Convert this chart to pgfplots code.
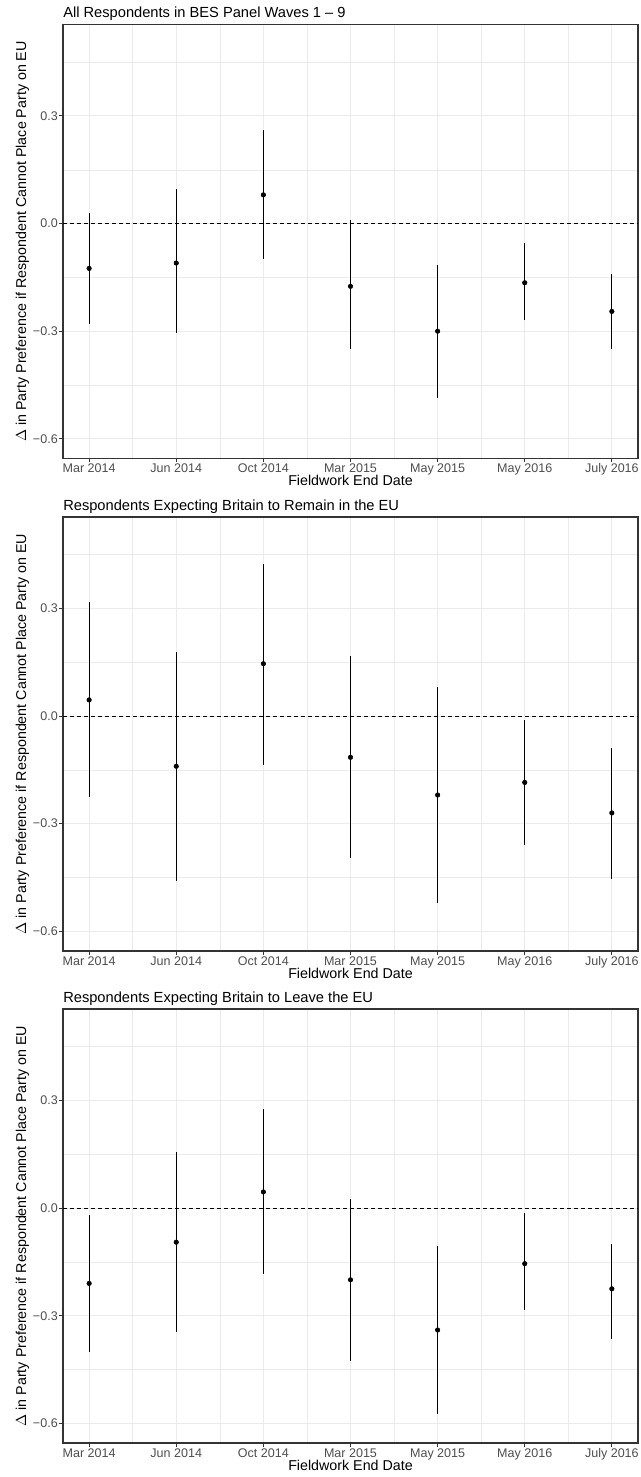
\documentclass[border=0pt]{standalone}
\usepackage{fontspec}
\setmainfont{Liberation Sans}
\usepackage{pgfplots}
\usepackage{pgfplotstable}
\pgfplotsset{compat=1.18}
\definecolor{gg20}{HTML}{333333}
\definecolor{gg30}{HTML}{4D4D4D}
\definecolor{gg92}{HTML}{EBEBEB}

\pgfplotstableread{
x y lo hi
1 -0.125 -0.280 0.030
2 -0.110 -0.305 0.095
3 0.080 -0.100 0.260
4 -0.175 -0.350 0.010
5 -0.300 -0.485 -0.115
6 -0.165 -0.270 -0.055
7 -0.245 -0.350 -0.140
}\tA
\pgfplotstableread{
x y lo hi
1 0.045 -0.225 0.318
2 -0.140 -0.460 0.180
3 0.146 -0.135 0.425
4 -0.115 -0.395 0.168
5 -0.220 -0.520 0.080
6 -0.185 -0.360 -0.011
7 -0.270 -0.455 -0.090
}\tB
\pgfplotstableread{
x y lo hi
1 -0.210 -0.400 -0.020
2 -0.095 -0.345 0.155
3 0.045 -0.185 0.275
4 -0.200 -0.425 0.025
5 -0.340 -0.575 -0.105
6 -0.155 -0.285 -0.015
7 -0.225 -0.365 -0.100
}\tC

\pgfplotsset{
  every axis title shift=0pt,
  ggpanel/.style={
    scale only axis,
    width=431.25pt, height=325.5pt,
    anchor=north west,
    xmin=0.7, xmax=7.3, ymin=-0.655, ymax=0.555,
    xtick={1,2,3,4,5,6,7},
    xticklabels={Mar 2014,Jun 2014,Oct 2014,Mar 2015,May 2015,May 2016,July 2016},
    ytick={-0.6,-0.3,0,0.3},
    yticklabels={−0.6,−0.3,0.0,0.3},
    minor xtick={1.5,2.5,3.5,4.5,5.5,6.5},
    minor ytick={-0.45,-0.15,0.15,0.45},
    grid=both,
    major grid style={draw=gg92, line width=0.8pt},
    minor grid style={draw=gg92, line width=0.4pt},
    minor tick length=0pt,
    major tick length=2.75pt,
    tick align=outside,
    xtick pos=bottom, ytick pos=left,
    tick style={draw=gg20, line width=0.75pt},
    axis line style={draw=gg20, line width=0.8pt},
    tick label style={font=\fontsize{9.4}{10}\selectfont, text=gg30},
    xticklabel style={inner sep=0pt, anchor=north, yshift=-1pt},
    yticklabel style={inner sep=0pt, anchor=east, xshift=-1pt},
    title style={at={(axis description cs:0,1.0161)}, anchor=base west, inner sep=0pt, font=\fontsize{11}{13}\selectfont},
    xlabel={Fieldwork End Date},
    xlabel style={at={(axis description cs:0.5,-0.0622)}, anchor=base, inner sep=0pt, font=\fontsize{10.7}{12}\selectfont},
    ylabel={$\Delta$ in Party Preference if Respondent Cannot Place Party on EU},
    ylabel style={at={(axis description cs:-0.06435,0.5)}, anchor=base, inner sep=0pt, font=\fontsize{10.7}{12}\selectfont},
  },
  ggdata/.style={only marks, mark=*, mark size=1.7pt, color=black,
    error bars/.cd, y dir=both, y explicit, error mark=none,
    error bar style={line width=0.8pt, color=black}},
  gghline/.style={black, line width=0.6pt, dash pattern=on 3pt off 2.25pt, forget plot},
}

\begin{document}
\begin{tikzpicture}
\useasboundingbox (0,0) rectangle (480pt,-1107.75pt);

\begin{axis}[ggpanel, at={(47.25pt,-18.375pt)}, title={All Respondents in BES Panel Waves 1 – 9}]
\addplot[gghline] coordinates {(0.7,0) (7.3,0)};
\addplot[ggdata] table[x=x, y=y, y error plus expr=\thisrow{hi}-\thisrow{y}, y error minus expr=\thisrow{y}-\thisrow{lo}] {\tA};
\end{axis}

\begin{axis}[ggpanel, at={(47.25pt,-387.75pt)}, title={Respondents Expecting Britain to Remain in the EU}]
\addplot[gghline] coordinates {(0.7,0) (7.3,0)};
\addplot[ggdata] table[x=x, y=y, y error plus expr=\thisrow{hi}-\thisrow{y}, y error minus expr=\thisrow{y}-\thisrow{lo}] {\tB};
\end{axis}

\begin{axis}[ggpanel, at={(47.25pt,-756.75pt)}, title={Respondents Expecting Britain to Leave the EU}]
\addplot[gghline] coordinates {(0.7,0) (7.3,0)};
\addplot[ggdata] table[x=x, y=y, y error plus expr=\thisrow{hi}-\thisrow{y}, y error minus expr=\thisrow{y}-\thisrow{lo}] {\tC};
\end{axis}
\end{tikzpicture}
\end{document}
